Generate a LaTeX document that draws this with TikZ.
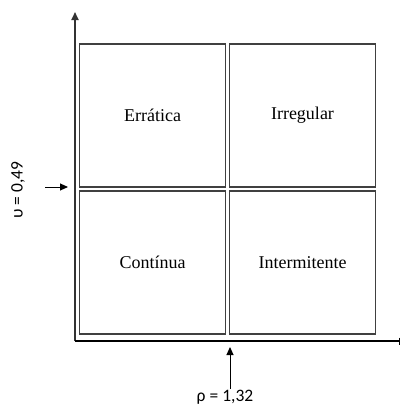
\documentclass[tikz,border=0pt]{standalone}
\usepackage{fontspec}
\setmainfont{Liberation Serif}
\newfontfamily\lblfont{Carlito}
\usetikzlibrary{arrows.meta,positioning}

\begin{document}
\begin{tikzpicture}[x=1pt,y=-1pt,>={Triangle[length=8pt,width=7pt]},
  quad/.style={draw=black!75,line width=1.6pt,minimum width=146pt,minimum height=143pt,
    inner sep=0pt,font=\fontsize{18}{21}\selectfont},
  axis/.style={line width=1.2pt},
  lbl/.style={font=\lblfont\fontsize{17.5}{20}\selectfont,inner sep=1pt}]
  \useasboundingbox (0,0) rectangle (401,407);
  % eixos
  \coordinate (orig) at (75,341);
  \coordinate (ytop) at (75,12);
  \coordinate (xend) at (400,341);
  \draw[axis,draw=black!80,line width=1.8pt,->] (orig) -- (ytop);
  \draw[axis,-{Bar[width=7pt]}] (orig) -- (xend);

  % quadrantes
  \node[quad] (errat) at (152.5,115.5) {Errática};
  \node[quad] (irreg) at (302.5,115.5) {Irregular};
  \node[quad] (contin) at (152.5,262.5) {Contínua};
  \node[quad] (interm) at (302.5,262.5) {Intermitente};

  % limites
  \node[lbl,rotate=90] (adi) at (18,190) {υ = 0,49};
  \coordinate (adist) at (45,187);
  \coordinate (adiend) at (68,187);
  \draw[line width=1pt,->] (adist) -- (adiend);

  \node[lbl] (cv) at (225,397) {ρ = 1,32};
  \coordinate (cvend) at (230,347);
  \draw[line width=1pt,->] (cvend |- cv.north) -- (cvend);
\end{tikzpicture}
\end{document}
